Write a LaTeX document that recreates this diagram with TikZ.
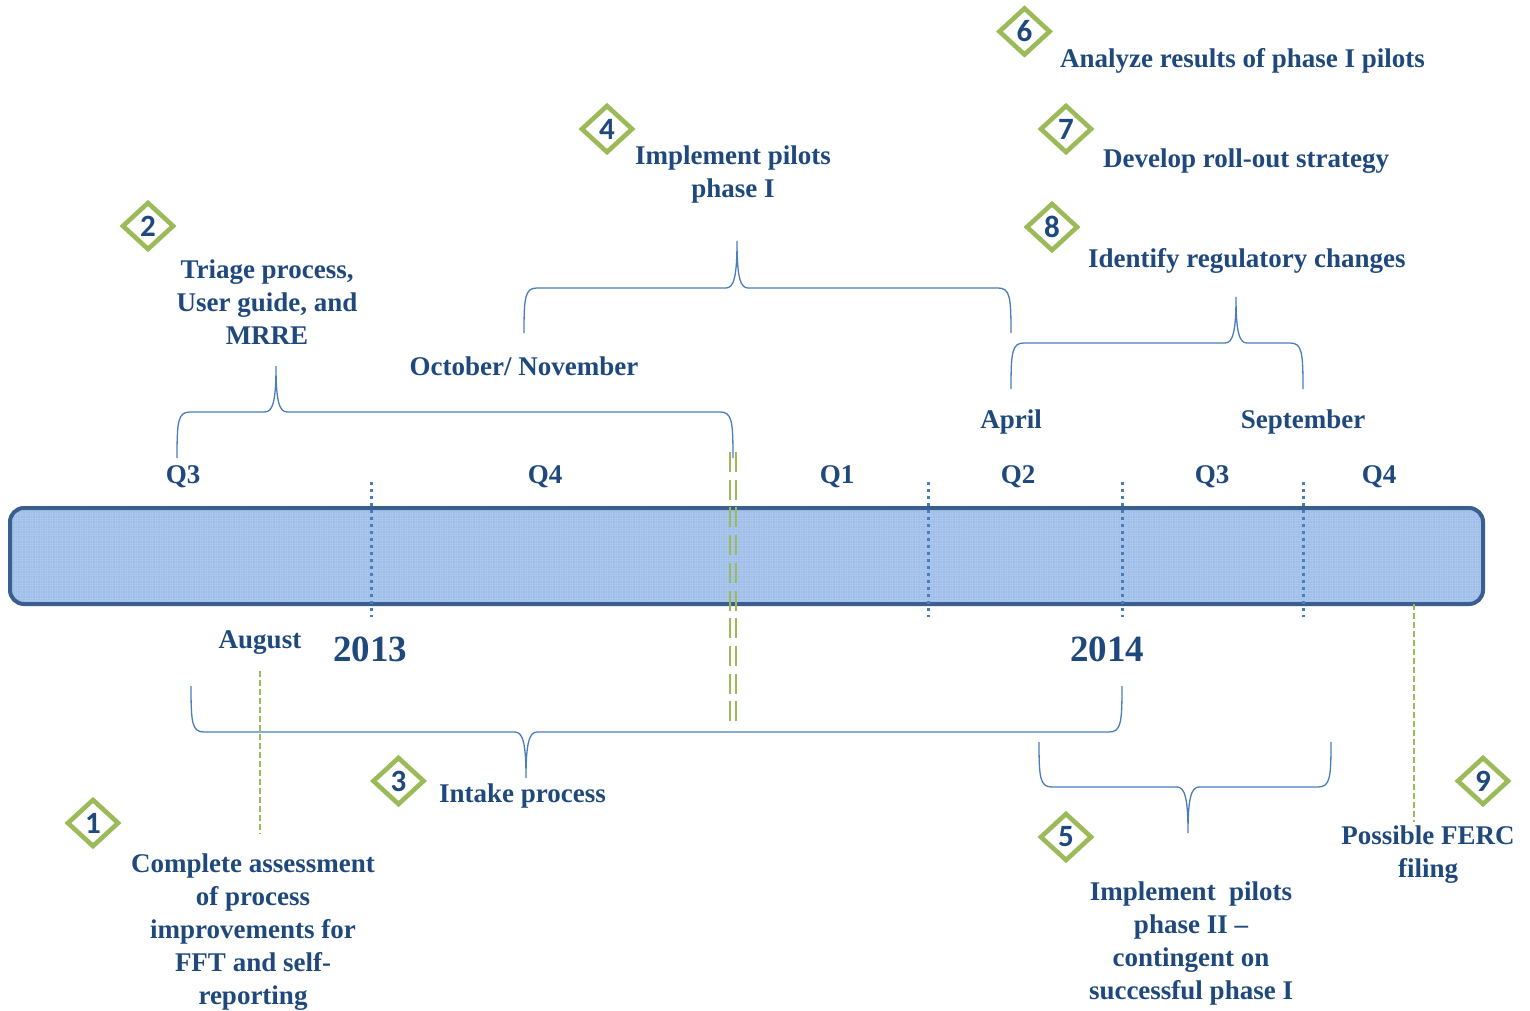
\documentclass[tikz,border=0pt]{standalone}
\usepackage{fontspec}
\setmainfont{Liberation Serif}
\newfontfamily\digitfont{Carlito}
\usetikzlibrary{shapes.geometric}
\definecolor{navy}{HTML}{1F497D}
\definecolor{barline}{HTML}{3A5F8F}
\definecolor{barfill}{HTML}{9DBDE8}
\definecolor{barmesh}{HTML}{AAC6EC}
\definecolor{brace}{HTML}{4A7EBB}
\definecolor{leaf}{HTML}{9BBB59}
\tikzset{
  x=1pt,y=-1pt,
  label/.style={text=navy,font=\bfseries\fontsize{27}{33}\selectfont,align=center,inner sep=0pt},
  big/.style={text=navy,font=\bfseries\fontsize{37}{40}\selectfont,inner sep=0pt},
  num/.style={shape=diamond,draw=leaf,line width=4.6pt,minimum width=52pt,minimum height=48pt,inner sep=0pt,text=navy,font=\digitfont\bfseries\fontsize{31}{31}\selectfont},
  bracket/.style={draw=brace,line width=1.3pt},
  tick/.style={draw=brace,line width=3pt,dash pattern=on 3pt off 4pt},
  mark line/.style={draw=leaf,line width=2.8pt,dash pattern=on 20pt off 7.7pt},
}
\newcommand{\upbrace}[5]{% x-left, x-tip, x-right, y-bar, y-foot-left ; tip height is arg via \tipy
  \draw[bracket] (#1,#5) .. controls (#1,#4+9) and (#1+1,#4) .. (#1+13,#4)
    -- (#2-11,#4) .. controls (#2-3,#4) and (#2,#4-12) .. (#2,\tipy)
    .. controls (#2,#4-12) and (#2+3,#4) .. (#2+11,#4)
    -- (#3-13,#4) .. controls (#3-1,#4) and (#3,#4+9) .. (#3,\footr);}
\begin{document}
\begin{tikzpicture}
\useasboundingbox (0,0) rectangle (1530,1011);
% bar
\fill[barfill,rounded corners=14pt] (10,508) rectangle (1483,604);
\begin{scope}
\clip[rounded corners=14pt] (10,508) rectangle (1483,604);
\foreach \i in {0,...,590} \draw[barmesh,line width=.7pt] (10+\i*2.5,508) -- (10+\i*2.5,604);
\foreach \i in {0,...,39} \draw[barmesh,line width=.7pt] (10,508+\i*2.5) -- (1483,508+\i*2.5);
\end{scope}
\node[draw=barline,line width=4pt,rounded corners=14pt,minimum width=1473pt,minimum height=96pt,inner sep=0pt] (bar) at (746.5,556) {};
% quarter ticks
\foreach \n/\x in {a/371,b/928,c/1122,d/1303}{
  \coordinate (t\n) at (\x,482); \coordinate (u\n) at (\x,617);
  \draw[tick] (t\n) -- (u\n);}
% green markers
\draw[mark line] (730,452) -- (730,722);
\draw[mark line] (736,452) -- (736,722);
\draw[draw=leaf,line width=2.8pt,dash pattern=on 6pt off 3pt] (260,671) -- (260,834);
\draw[draw=leaf,line width=2.8pt,dash pattern=on 6pt off 3pt] (1414,604) -- (1414,822);
% braces
\def\tipy{366}\def\footr{458}\upbrace{177}{276}{733}{412}{458}
\def\tipy{241}\def\footr{333}\upbrace{524}{737}{1011}{288}{333}
\def\tipy{297}\def\footr{389}\upbrace{1011}{1236}{1303}{343}{389}
% lower braces
\newcommand{\downbrace}[6]{\draw[bracket] (#1,#5) .. controls (#1,#4-9) and (#1+1,#4) .. (#1+13,#4)
    -- (#2-11,#4) .. controls (#2-3,#4) and (#2,#4+12) .. (#2,#6)
    .. controls (#2,#4+12) and (#2+3,#4) .. (#2+11,#4)
    -- (#3-13,#4) .. controls (#3-1,#4) and (#3,#4-9) .. (#3,#5);}
\downbrace{191}{526}{1122}{732}{686}{778}
\downbrace{1039}{1188}{1331}{787}{742}{833}
% quarter labels
\node[label] (q1) at (183,477) {Q3};
\node[label] (q2) at (545,477) {Q4};
\node[label] (q3) at (837,477) {Q1};
\node[label] (q4) at (1018,477) {Q2};
\node[label] (q5) at (1212,477) {Q3};
\node[label] (q6) at (1379,477) {Q4};
\node[label] (oct) at (524,366) {October/ November};
\node[label] (apr) at (1011,422) {April};
\node[label] (sep) at (1303,422) {September};
\node[label] (aug) at (260,643) {August};
\node[big] (y13) at (370,649) {2013};
\node[big] (y14) at (1107,649) {2014};
% task labels
\node[label,anchor=west] (l6) at (1060,61) {Analyze results of phase I pilots};
\node[label,anchor=west] (l7) at (1103,161) {Develop roll-out strategy};
\node[label,anchor=west] (l8) at (1088,261) {Identify regulatory changes};
\node[label] (l4) at (733,175) {Implement pilots\\phase I};
\node[label] (l2) at (267,302) {Triage process,\\User guide, and\\MRRE};
\node[label,anchor=west] (l3) at (439,796) {Intake process};
\node[label] (l1) at (253,932) {Complete assessment\\of process\\improvements for\\FFT and self-\\reporting};
\node[label] (l5) at (1191,943) {Implement\ \ pilots\\phase II –\\contingent on\\successful phase I};
\node[label] (l9) at (1428,855) {Possible FERC\\filing};
% numbered diamonds
\node[num] (n1) at (93,823) {1};
\node[num] (n2) at (148,226) {2};
\node[num] (n3) at (398.5,781) {3};
\node[num] (n4) at (607,129) {4};
\node[num] (n5) at (1066,837) {5};
\node[num] (n6) at (1024.5,31.5) {6};
\node[num] (n7) at (1066,129) {7};
\node[num] (n8) at (1052,227) {8};
\node[num] (n9) at (1483,781) {9};
\end{tikzpicture}
\end{document}
